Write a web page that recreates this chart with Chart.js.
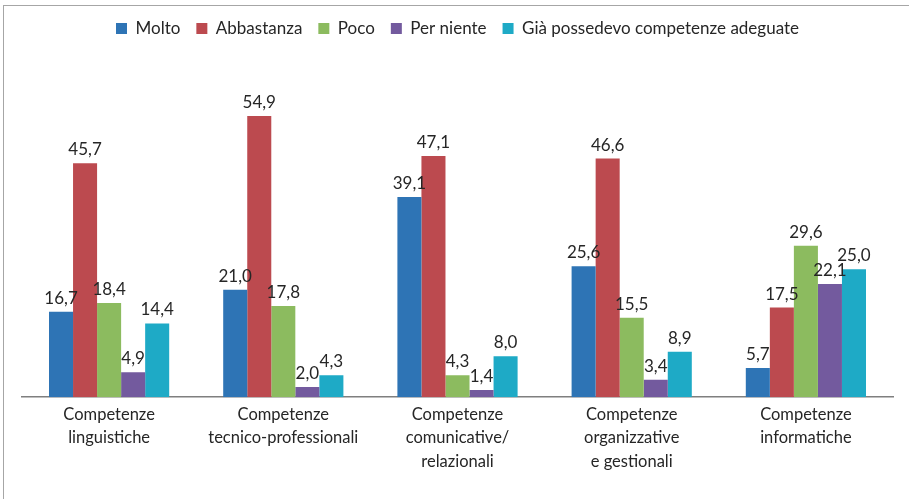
<!DOCTYPE html>
<html>
<head>
<meta charset="utf-8">
<script src="https://cdn.jsdelivr.net/npm/chart.js@4.4.0/dist/chart.umd.min.js"></script>
<style>
    body { margin: 0; background: #fff; }
    #wrap { position: relative; width: 909px; height: 499px; }
    #frame { position: absolute; left: 3px; top: 5px; width: 920px; height: 520px; border: 1px solid #a6a6a6; }
    canvas { position: absolute; left: 0; top: 0; }
</style>
</head>
<body>
<div id="wrap">
    <div id="frame"></div>
    <canvas id="chart" width="909" height="499"></canvas>
</div>
<script>
// Categories (multi-line labels)
const categories = [
    ['Competenze', 'linguistiche'],
    ['Competenze', 'tecnico-professionali'],
    ['Competenze', 'comunicative/', 'relazionali'],
    ['Competenze', 'organizzative', 'e gestionali'],
    ['Competenze', 'informatiche']
];

// Series values
const molto = [16.7, 21.0, 39.1, 25.6, 5.7];
const abbastanza = [45.7, 54.9, 47.1, 46.6, 17.5];
const poco = [18.4, 17.8, 4.3, 15.5, 29.6];
const perNiente = [4.9, 2.0, 1.4, 3.4, 22.1];
const giaPossedevo = [14.4, 4.3, 8.0, 8.9, 25.0];

const fontFamily = 'Lato, "Open Sans", sans-serif';

// Draw the value above each bar, with a comma as decimal separator
const valueLabels = {
    id: 'valueLabels',
    afterDatasetsDraw(chart) {
        const ctx = chart.ctx;
        ctx.save();
        ctx.font = '17px ' + fontFamily;
        ctx.fillStyle = '#262626';
        ctx.textAlign = 'center';
        ctx.textBaseline = 'bottom';
        chart.data.datasets.forEach(function(ds, i) {
            const meta = chart.getDatasetMeta(i);
            meta.data.forEach(function(bar, j) {
                const text = ds.data[j].toFixed(1).replace('.', ',');
                ctx.fillText(text, bar.x, bar.y - 5);
            });
        });
        ctx.restore();
    }
};

// Extra space between the legend and the bars
const legendSpacing = {
    id: 'legendSpacing',
    beforeInit(chart) {
        const origFit = chart.legend.fit;
        chart.legend.fit = function() {
            origFit.bind(chart.legend)();
            this.height += 43;
        };
    }
};

new Chart(document.getElementById('chart'), {
    type: 'bar',
    data: {
        labels: categories,
        datasets: [
            { label: 'Molto', data: molto, backgroundColor: '#2e74b5' },
            { label: 'Abbastanza', data: abbastanza, backgroundColor: '#bc4a4f' },
            { label: 'Poco', data: poco, backgroundColor: '#8cbb5f' },
            { label: 'Per niente', data: perNiente, backgroundColor: '#735a9e' },
            { label: 'Già possedevo competenze adeguate', data: giaPossedevo, backgroundColor: '#1eaac6' }
        ]
    },
    options: {
        responsive: false,
        animation: false,
        layout: { padding: { left: 22, right: 16, top: 4, bottom: 28 } },
        datasets: {
            bar: { categoryPercentage: 0.69, barPercentage: 1.0 }
        },
        plugins: {
            legend: {
                position: 'top',
                labels: {
                    boxWidth: 11,
                    boxHeight: 11,
                    padding: 16,
                    color: '#262626',
                    font: { family: fontFamily, size: 17 }
                }
            },
            tooltip: { enabled: false }
        },
        scales: {
            x: {
                grid: { display: false },
                border: { display: true, color: '#7f7f7f', width: 1.5 },
                ticks: {
                    color: '#262626',
                    padding: -3,
                    maxRotation: 0,
                    font: { family: fontFamily, size: 16.5, lineHeight: 1.45 }
                }
            },
            y: {
                display: false,
                min: 0,
                max: 60
            }
        }
    },
    plugins: [legendSpacing, valueLabels]
});
</script>
</body>
</html>
